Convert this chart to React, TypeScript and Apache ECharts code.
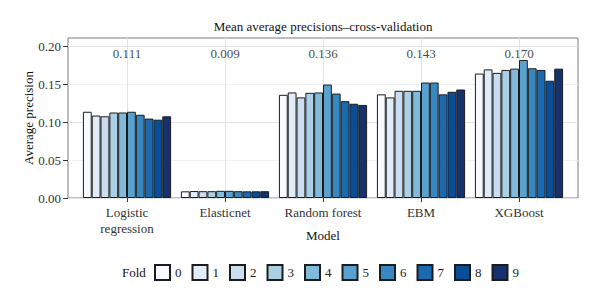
import React, { useEffect, useRef } from 'react';
import * as echarts from 'echarts';

const CATEGORIES = ['Logistic\nregression', 'Elasticnet', 'Random forest', 'EBM', 'XGBoost'];
const FOLDS = ['0', '1', '2', '3', '4', '5', '6', '7', '8', '9'];
const LOGISTIC = [0.114, 0.109, 0.108, 0.113, 0.113, 0.114, 0.11, 0.105, 0.1035, 0.108];
const ELASTICNET = [0.0088, 0.0092, 0.009, 0.009, 0.0095, 0.0095, 0.009, 0.0088, 0.0088, 0.009];
const RANDOM_FOREST = [0.1364, 0.1395, 0.133, 0.139, 0.1395, 0.15, 0.138, 0.128, 0.1246, 0.123];
const EBM = [0.137, 0.133, 0.1417, 0.1417, 0.1417, 0.1526, 0.1526, 0.137, 0.1404, 0.1434];
const XGBOOST = [0.1645, 0.17, 0.1654, 0.1693, 0.171, 0.1825, 0.1715, 0.1693, 0.155, 0.171];
const MEANS = [0.111, 0.009, 0.136, 0.143, 0.17];
const Y_TICKS = [0, 0.05, 0.1, 0.15, 0.2];
const FOLD_COLORS = ['#f7fbff', '#e0ecf8', '#cbdef1', '#abd0e6', '#82badc', '#59a2cf', '#3787c0', '#1b6aaf', '#0a4d97', '#16316b'];

const MODELS = [LOGISTIC, ELASTICNET, RANDOM_FOREST, EBM, XGBOOST];

export default function App() {
  const ref = useRef<HTMLDivElement>(null);
  useEffect(() => {
    const chart = echarts.init(ref.current!, null, { renderer: 'svg' });
    const font = 'Liberation Serif, DejaVu Serif, serif';
    const Y_MAX = 0.2115;
    const LABEL_Y = 0.191;
    const top = 38;
    const bottom = 105;
    chart.setOption({
      animation: false,
      textStyle: { fontFamily: font },
      grid: [
        { left: 68, right: 22, top, bottom, show: true, borderColor: '#7a7a7a', borderWidth: 1, backgroundColor: 'transparent' },
        { left: 127, right: 81, top, bottom },
      ],
      xAxis: [
        { gridIndex: 0, type: 'value', min: 0, max: 1, show: false },
        {
          gridIndex: 1,
          type: 'category',
          data: CATEGORIES,
          boundaryGap: false,
          axisLine: { show: false },
          axisTick: { show: true, length: 4, interval: 0, lineStyle: { color: '#333' } },
          axisLabel: { interval: 0, margin: 6, fontSize: 13, color: '#333', lineHeight: 16, fontFamily: font },
          splitLine: { show: true, interval: 0, lineStyle: { color: '#e3e3e3', width: 1 } },
          name: 'Model',
          nameLocation: 'middle',
          nameGap: 31,
          nameMoveOverlap: false,
          nameTextStyle: { fontSize: 13, color: '#111', fontFamily: font },
        },
      ],
      yAxis: [
        {
          gridIndex: 0,
          type: 'value',
          min: 0,
          max: Y_MAX,
          interval: 0.025,
          axisLine: { show: false },
          axisTick: { show: true, length: 5, customValues: Y_TICKS, lineStyle: { color: '#333' } },
          axisLabel: {
            customValues: Y_TICKS,
            margin: 7,
            fontSize: 13,
            color: '#333',
            fontFamily: font,
            formatter: (v: number) => v.toFixed(2),
          },
          splitLine: { show: true, lineStyle: { color: ['#e3e3e3', '#f1f1f1'], width: 1 } },
          name: 'Average precision',
          nameLocation: 'middle',
          nameGap: 33,
          nameMoveOverlap: false,
          nameTextStyle: { fontSize: 13, color: '#111', fontFamily: font },
        },
        { gridIndex: 1, type: 'value', min: 0, max: Y_MAX, show: false },
      ],
      legend: {
        data: FOLDS,
        left: 149,
        top: 259,
        itemWidth: 15,
        itemHeight: 15,
        itemGap: 10,
        icon: 'rect',
        textStyle: { fontSize: 13, color: '#222', fontFamily: font },
      },
      graphic: [
        {
          type: 'text',
          x: 323,
          y: 26,
          style: { text: 'Mean average precisions–cross-validation', fontSize: 13, fontFamily: font, fill: '#111', align: 'center', verticalAlign: 'middle' },
        },
        {
          type: 'text',
          x: 122,
          y: 272,
          style: { text: 'Fold', fontSize: 13, fontFamily: font, fill: '#111', align: 'left', verticalAlign: 'middle' },
        },
      ],
      series: [
        ...FOLDS.map((f, i) => ({
          type: 'bar',
          name: f,
          xAxisIndex: 1,
          yAxisIndex: 1,
          data: MODELS.map((m) => m[i]),
          barGap: '0%',
          barCategoryGap: '10%',
          clip: false,
          itemStyle: { color: FOLD_COLORS[i], borderColor: '#1c1c1c', borderWidth: 1 },
        })),
        {
          type: 'scatter',
          xAxisIndex: 1,
          yAxisIndex: 1,
          symbolSize: 0,
          silent: true,
          data: MEANS.map((m, i) => [i, LABEL_Y, m]),
          label: {
            show: true,
            position: 'inside',
            fontSize: 13,
            color: '#111',
            fontFamily: font,
            formatter: (p: any) => p.value[2].toFixed(3),
          },
        },
      ],
    });
    return () => chart.dispose();
  }, []);
  return <div ref={ref} style={{ position: 'absolute', left: 0, top: 0, width: 600, height: 303 }} />;
}
